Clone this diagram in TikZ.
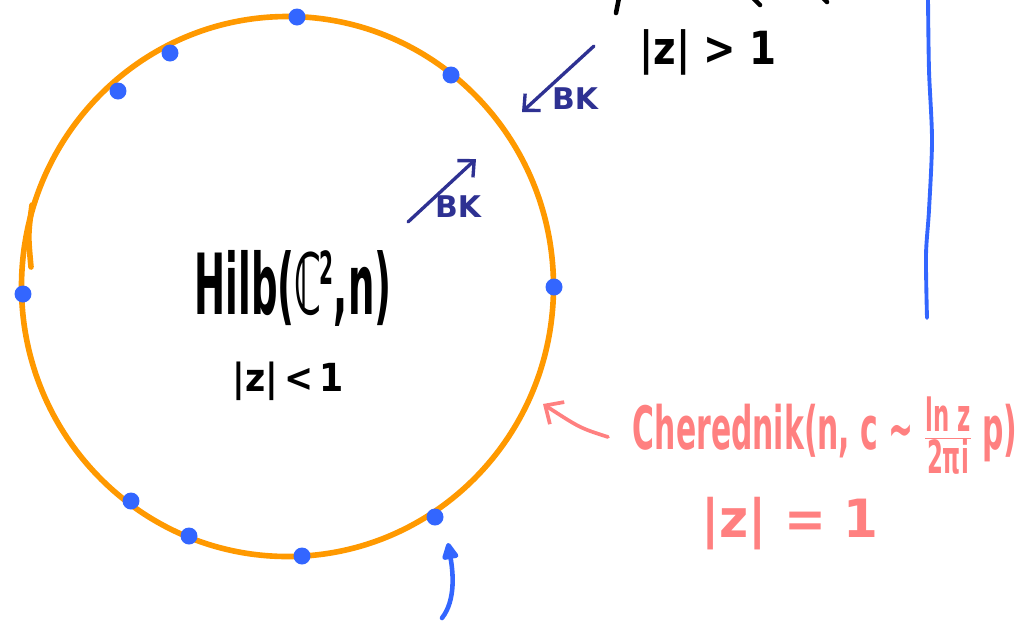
\documentclass[tikz,border=0pt]{standalone}
\usepackage{fontspec}
\setmainfont{DejaVu Sans}
\usepackage{graphicx}
\usetikzlibrary{arrows.meta}
\definecolor{ringorange}{RGB}{255,153,0}
\definecolor{dotblue}{RGB}{51,102,255}
\definecolor{bkblue}{RGB}{46,49,146}
\definecolor{chpink}{RGB}{255,128,128}
\begin{document}
\begin{tikzpicture}[x=0.02cm,y=-0.02cm,
  ring/.style={draw=ringorange,line width=3.2pt,line cap=round},
  dot/.style={circle,fill=dotblue,inner sep=0pt,minimum size=0.34cm},
  hand/.style={inner sep=0pt,align=center},
  bk/.style={draw=bkblue,line width=1.9pt,line cap=round,-{Straight Barb[length=7pt,width=13pt,line width=1.9pt]}},
  bklabel/.style={hand,text=bkblue,font=\fontsize{17}{18}\selectfont\bfseries}]
\useasboundingbox (0,0) rectangle (1021,623);
\draw[ring] (287.5,286.5) ellipse [x radius=266,y radius=270];
\draw[ring] (32,205) .. controls (28,235) .. (31,267);
\foreach \x/\y [count=\i] in {297/17,170/53,118/91,451/75,23/294,554/287,131/501,189/536,302/556,435/517}
  \node[dot] (p\i) at (\x,\y) {};
\node[hand,font=\fontsize{48}{50}\selectfont\bfseries] (hilb) at (293,288) {\scalebox{0.44}[1]{Hilb(ℂ\kern-.05em\raisebox{.35em}{\fontsize{26}{26}\selectfont 2},n)}};
\node[hand,font=\fontsize{22}{24}\selectfont\bfseries] (inside) at (288,381) {\scalebox{0.9}[1]{|z|\,<\,1}};
\node[hand,font=\fontsize{26}{28}\selectfont\bfseries] (outside) at (708,52) {\scalebox{0.85}[1]{|z| > 1}};
\coordinate (bko1) at (594,46);
\coordinate (bko2) at (522,112);
\draw[bk] (bko1) -- (bko2);
\node[bklabel] (bkout) at (575,99) {BK};
\coordinate (bki1) at (408,222);
\coordinate (bki2) at (476,159);
\draw[bk] (bki1) -- (bki2);
\node[bklabel] (bkin) at (458,207) {BK};
\node[hand,text=chpink,font=\fontsize{34}{36}\selectfont\bfseries] (cher) at (825,436) {\scalebox{0.5}[1]{Cherednik(n, c ∼ $\frac{\mbox{\fontsize{26}{26}\selectfont\bfseries ln z}}{\mbox{\fontsize{26}{26}\selectfont\bfseries 2πi}}$ p)}};
\node[hand,text=chpink,font=\fontsize{30}{32}\selectfont\bfseries] (circ) at (790,524) {\scalebox{0.95}[1]{|z| = 1}};
\coordinate (ch1) at (608,437);
\coordinate (ch2) at (543,404);
\draw[chpink,line width=2.1pt,line cap=round,-{Straight Barb[length=8pt,width=15pt,line width=2.1pt]}] (ch1) .. controls (580,428) .. (ch2);
\coordinate (up1) at (442,618);
\coordinate (up2) at (448,543);
\draw[dotblue,line width=2.6pt,line cap=round,-{Triangle[length=11pt,width=10pt,round]}] (up1) .. controls (456,600) and (453,572) .. (up2);
\draw[dotblue,line width=2.2pt,line cap=round] plot[smooth] coordinates {(928,-2) (929,70) (932,140) (929,210) (926,255) (927,318)};
\draw[black,line width=2.6pt,line cap=round] (619,-2) -- (616,13);
\draw[black,line width=2.6pt,line cap=round] (753,-2) -- (760,5);
\draw[black,line width=2.6pt,line cap=round] (823,-2) -- (827,2);
\end{tikzpicture}
\end{document}
